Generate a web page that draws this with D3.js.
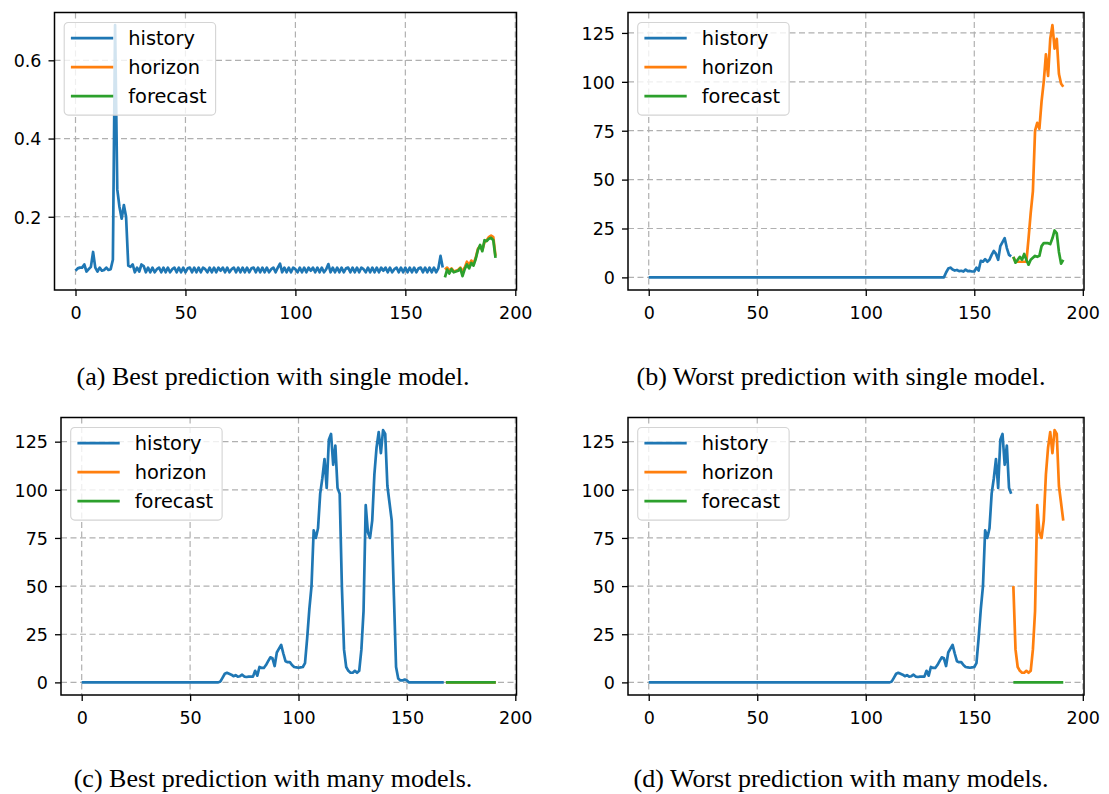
<!DOCTYPE html>
<html>
<head>
<meta charset="utf-8">
<script src="https://cdn.jsdelivr.net/npm/d3@7"></script>
<style>
  body { margin: 0; background: #fff; }
  svg { display: block; }
</style>
</head>
<body>
<svg id="chart" width="1109" height="794"></svg>
<script>
// series legend
const seriesNames = ["history", "horizon", "forecast"]
const seriesColors = ["#1f77b4", "#ff7f0e", "#2ca02c"]

// ticks
const xTicks = [0, 50, 100, 150, 200]
const yTicksA = [0.2, 0.4, 0.6]
const yTicksB = [0, 25, 50, 75, 100, 125]

// history is hours 0..167, horizon and forecast are hours 168..191
const historyStart = 0
const horizonStart = 168

const captions = [
  "(a) Best prediction with single model.",
  "(b) Worst prediction with single model.",
  "(c) Best prediction with many models.",
  "(d) Worst prediction with many models."
]

// (a) best, single model
const historyA = [
  0.062, 0.068, 0.07, 0.07, 0.078, 0.06, 0.066, 0.072, 0.11, 0.07, 0.06, 0.07, 0.062, 0.064, 0.07, 0.064, 0.066, 0.09, 0.69, 0.27, 0.225, 0.195, 0.23, 0.2,
  0.075, 0.072, 0.078, 0.058, 0.07, 0.06, 0.078, 0.074, 0.058, 0.07, 0.058, 0.07, 0.058, 0.066, 0.07, 0.058, 0.07, 0.058, 0.07, 0.058, 0.066, 0.07, 0.058, 0.07,
  0.058, 0.07, 0.058, 0.068, 0.07, 0.058, 0.07, 0.058, 0.07, 0.058, 0.07, 0.066, 0.058, 0.07, 0.058, 0.07, 0.058, 0.07, 0.062, 0.07, 0.058, 0.07, 0.058, 0.066,
  0.07, 0.058, 0.07, 0.058, 0.07, 0.058, 0.07, 0.058, 0.068, 0.07, 0.058, 0.07, 0.058, 0.07, 0.058, 0.07, 0.058, 0.066, 0.07, 0.058, 0.07, 0.08, 0.058, 0.07,
  0.058, 0.07, 0.058, 0.07, 0.066, 0.058, 0.07, 0.058, 0.07, 0.058, 0.07, 0.062, 0.07, 0.058, 0.07, 0.058, 0.07, 0.058, 0.066, 0.079, 0.058, 0.07, 0.058, 0.07,
  0.058, 0.07, 0.058, 0.068, 0.07, 0.058, 0.07, 0.058, 0.07, 0.058, 0.07, 0.066, 0.058, 0.07, 0.058, 0.07, 0.058, 0.07, 0.058, 0.07, 0.062, 0.07, 0.058, 0.07,
  0.058, 0.066, 0.07, 0.058, 0.07, 0.058, 0.07, 0.058, 0.07, 0.058, 0.07, 0.058, 0.068, 0.07, 0.058, 0.07, 0.058, 0.07, 0.058, 0.07, 0.058, 0.068, 0.1, 0.07
]
const horizonA = [0.065, 0.07, 0.062, 0.068, 0.06, 0.062, 0.064, 0.07, 0.06, 0.07, 0.085, 0.075, 0.088, 0.08, 0.095, 0.118, 0.125, 0.115, 0.135, 0.14, 0.148, 0.152, 0.148, 0.1]
const forecastA = [0.045, 0.065, 0.055, 0.066, 0.058, 0.06, 0.062, 0.068, 0.048, 0.066, 0.078, 0.068, 0.082, 0.075, 0.092, 0.115, 0.128, 0.112, 0.14, 0.138, 0.144, 0.146, 0.14, 0.095]

// (b) worst, single model
const historyB = [
  0, 0, 0, 0, 0, 0, 0, 0, 0, 0, 0, 0, 0, 0, 0, 0, 0, 0, 0, 0, 0, 0, 0, 0,
  0, 0, 0, 0, 0, 0, 0, 0, 0, 0, 0, 0, 0, 0, 0, 0, 0, 0, 0, 0, 0, 0, 0, 0,
  0, 0, 0, 0, 0, 0, 0, 0, 0, 0, 0, 0, 0, 0, 0, 0, 0, 0, 0, 0, 0, 0, 0, 0,
  0, 0, 0, 0, 0, 0, 0, 0, 0, 0, 0, 0, 0, 0, 0, 0, 0, 0, 0, 0, 0, 0, 0, 0,
  0, 0, 0, 0, 0, 0, 0, 0, 0, 0, 0, 0, 0, 0, 0, 0, 0, 0, 0, 0, 0, 0, 0, 0,
  0, 0, 0, 0, 0, 0, 0, 0, 0, 0, 0, 0, 0, 0, 0, 0, 0, 2.5, 4.5, 5, 4, 3.5, 3.8, 3.2,
  3.4, 3, 4, 3.2, 3.3, 3, 3, 5, 3.5, 8.5, 8, 9.3, 8, 9, 11.5, 13.5, 12, 9, 16, 18, 20, 15, 11.5, 10.7
]
const horizonB = [10.5, 8, 8, 8, 8, 8, 8, 20, 33, 44, 75, 79, 76, 90, 100, 114, 103, 122, 129, 117, 122, 104, 99, 97.5]
const forecastB = [10.5, 7.5, 9, 10.5, 9, 12, 9, 6.5, 9, 10, 11, 10.5, 11, 16, 17.5, 17.5, 17.5, 17, 20, 24, 22.5, 13, 7, 9]

// (c) best, many models
const historyC = [
  0, 0, 0, 0, 0, 0, 0, 0, 0, 0, 0, 0, 0, 0, 0, 0, 0, 0, 0, 0, 0, 0, 0, 0,
  0, 0, 0, 0, 0, 0, 0, 0, 0, 0, 0, 0, 0, 0, 0, 0, 0, 0, 0, 0, 0, 0, 0, 0,
  0, 0, 0, 0, 0, 0, 0, 0, 0, 0, 0, 0, 0, 0, 0, 0, 0.5, 2.5, 4.5, 5, 4.5, 4, 3.2, 3.8,
  3, 3.2, 4, 3, 2.8, 3, 3, 3, 6, 3.5, 8, 7.5, 7.5, 9, 11, 13, 12.5, 8.5, 15.5, 17.5, 19.5, 15, 11, 10.5,
  10.5, 9, 8, 7.8, 7.6, 7.8, 8, 10, 23, 38, 50, 79, 75, 80, 98, 106, 116, 101, 126, 129, 113, 123, 101, 98,
  50, 17, 8, 6, 5, 5, 6, 5, 6, 17, 37, 92, 78, 75, 84, 108, 122, 130, 119, 131, 129, 102, 93, 84,
  45, 8, 2, 1, 1, 1.5, 1, 0, 0, 0, 0, 0, 0, 0, 0, 0, 0, 0, 0, 0, 0, 0, 0, 0
]
const horizonC = [0, 0, 0, 0, 0, 0, 0, 0, 0, 0, 0, 0, 0, 0, 0, 0, 0, 0, 0, 0, 0, 0, 0, 0]
const forecastC = [0, 0, 0, 0, 0, 0, 0, 0, 0, 0, 0, 0, 0, 0, 0, 0, 0, 0, 0, 0, 0, 0, 0, 0]

// (d) worst, many models
const historyD = [
  0, 0, 0, 0, 0, 0, 0, 0, 0, 0, 0, 0, 0, 0, 0, 0, 0, 0, 0, 0, 0, 0, 0, 0,
  0, 0, 0, 0, 0, 0, 0, 0, 0, 0, 0, 0, 0, 0, 0, 0, 0, 0, 0, 0, 0, 0, 0, 0,
  0, 0, 0, 0, 0, 0, 0, 0, 0, 0, 0, 0, 0, 0, 0, 0, 0, 0, 0, 0, 0, 0, 0, 0,
  0, 0, 0, 0, 0, 0, 0, 0, 0, 0, 0, 0, 0, 0, 0, 0, 0, 0, 0, 0, 0, 0, 0, 0,
  0, 0, 0, 0, 0, 0, 0, 0, 0, 0, 0, 0, 0, 0, 0, 0, 0.5, 2.5, 4.5, 5, 4.5, 4, 3.2, 3.8,
  3, 3.2, 4, 3, 2.8, 3, 3, 3, 6, 3.5, 8, 7.5, 7.5, 9, 11, 13, 12.5, 8.5, 15.5, 17.5, 19.5, 15, 11, 10.5,
  10.5, 9, 8, 7.8, 7.6, 7.8, 8, 10, 23, 38, 50, 79, 75, 80, 98, 106, 116, 101, 126, 129, 113, 123, 101, 98
]
const horizonD = [50, 17, 8, 6, 5, 5, 6, 5, 6, 17, 37, 92, 78, 75, 84, 108, 122, 130, 119, 131, 129, 102, 93, 84]
const forecastD = [0, 0, 0, 0, 0, 0, 0, 0, 0, 0, 0, 0, 0, 0, 0, 0, 0, 0, 0, 0, 0, 0, 0, 0]

// layout of the four axes boxes (px)
const panels = [
  { left: 54.5, right: 516.5, top: 12.5, bottom: 290, series: [historyA, horizonA, forecastA], yTicks: yTicksA, fmt: d3.format(".1f"), capX: 273, capY: 385 },
  { left: 628, right: 1084, top: 12.5, bottom: 290, series: [historyB, horizonB, forecastB], yTicks: yTicksB, fmt: d3.format("d"), capX: 841, capY: 385 },
  { left: 61, right: 516.5, top: 417.5, bottom: 695, series: [historyC, horizonC, forecastC], yTicks: yTicksB, fmt: d3.format("d"), capX: 273, capY: 786.5 },
  { left: 628, right: 1084, top: 417.5, bottom: 695, series: [historyD, horizonD, forecastD], yTicks: yTicksB, fmt: d3.format("d"), capX: 841, capY: 786.5 }
]

const tickFont = "17.5px"
const legendFont = "19.4px"
const sans = "'DejaVu Sans', sans-serif"
const lineW = 2.7

const svg = d3.select("#chart")

panels.forEach(function (p, k) { drawPanel(p, captions[k]) })

function drawPanel(p, caption) {
  const starts = [historyStart, horizonStart, horizonStart]
  const pts = p.series.map(function (s, j) {
    return s.map(function (v, i) { return [starts[j] + i, v] })
  })
  const all = pts.flat()

  // matplotlib style 5% margins
  const xe = d3.extent(all, d => d[0])
  const ye = d3.extent(all, d => d[1])
  const xm = (xe[1] - xe[0]) * 0.05
  const ym = (ye[1] - ye[0]) * 0.05

  const x = d3.scaleLinear().domain([xe[0] - xm, xe[1] + xm]).range([p.left, p.right])
  const y = d3.scaleLinear().domain([ye[0] - ym, ye[1] + ym]).range([p.bottom, p.top])

  const g = svg.append("g")

  // grid
  const grid = g.append("g")
    .attr("stroke", "#b0b0b0")
    .attr("stroke-width", 1.2)
    .attr("stroke-dasharray", "6,3.5")
  grid.selectAll(".vg").data(xTicks).enter().append("line")
    .attr("x1", d => x(d)).attr("x2", d => x(d))
    .attr("y1", p.top).attr("y2", p.bottom)
  grid.selectAll(".hg").data(p.yTicks).enter().append("line")
    .attr("x1", p.left).attr("x2", p.right)
    .attr("y1", d => y(d)).attr("y2", d => y(d))

  // lines
  const line = d3.line().x(d => x(d[0])).y(d => y(d[1]))
  g.selectAll(".series").data(pts).enter().append("path")
    .attr("fill", "none")
    .attr("stroke", (d, j) => seriesColors[j])
    .attr("stroke-width", lineW)
    .attr("stroke-linejoin", "round")
    .attr("d", line)

  // axes
  const xAxis = g.append("g")
    .attr("transform", "translate(0," + p.bottom + ")")
    .call(d3.axisBottom(x).tickValues(xTicks).tickSize(6).tickPadding(10.6).tickSizeOuter(0))
  const yAxis = g.append("g")
    .attr("transform", "translate(" + p.left + ",0)")
    .call(d3.axisLeft(y).tickValues(p.yTicks).tickFormat(p.fmt).tickSize(6).tickPadding(7).tickSizeOuter(0))
  ;[xAxis, yAxis].forEach(function (a) {
    a.select(".domain").remove()
    a.selectAll(".tick line").attr("stroke", "#000").attr("stroke-width", 1.3)
    a.selectAll(".tick text")
      .attr("fill", "#000")
      .style("font-family", sans)
      .style("font-size", tickFont)
  })
  yAxis.selectAll(".tick text").attr("dy", "0.36em")

  // frame
  g.append("rect")
    .attr("x", p.left).attr("y", p.top)
    .attr("width", p.right - p.left).attr("height", p.bottom - p.top)
    .attr("fill", "none")
    .attr("stroke", "#000")
    .attr("stroke-width", 1.5)

  // legend
  const lx = p.left + 9.7
  const ly = p.top + 10
  const legend = g.append("g").attr("transform", "translate(" + lx + "," + ly + ")")
  const box = legend.append("rect")
    .attr("rx", 4).attr("ry", 4)
    .attr("height", 92.6)
    .attr("fill", "rgba(255,255,255,0.8)")
    .attr("stroke", "#d4d4d4")
    .attr("stroke-width", 1.1)
  const item = legend.selectAll(".item").data(seriesNames).enter().append("g")
    .attr("transform", (d, i) => "translate(0," + (15.6 + i * 29) + ")")
  item.append("line")
    .attr("x1", 6.7).attr("x2", 49)
    .attr("stroke", (d, i) => seriesColors[i])
    .attr("stroke-width", lineW)
  const labels = item.append("text")
    .attr("x", 64)
    .attr("dy", "0.37em")
    .style("font-family", sans)
    .style("font-size", legendFont)
    .attr("fill", "#000")
    .text(d => d)
  let maxW = 0
  labels.each(function () { maxW = Math.max(maxW, this.getComputedTextLength()) })
  box.attr("width", 64 + maxW + 9)

  // caption
  svg.append("text")
    .attr("x", p.capX).attr("y", p.capY)
    .attr("text-anchor", "middle")
    .style("font-family", "'Liberation Serif', 'Times New Roman', serif")
    .style("font-size", "26px")
    .attr("fill", "#000")
    .text(caption)
}
</script>
</body>
</html>
